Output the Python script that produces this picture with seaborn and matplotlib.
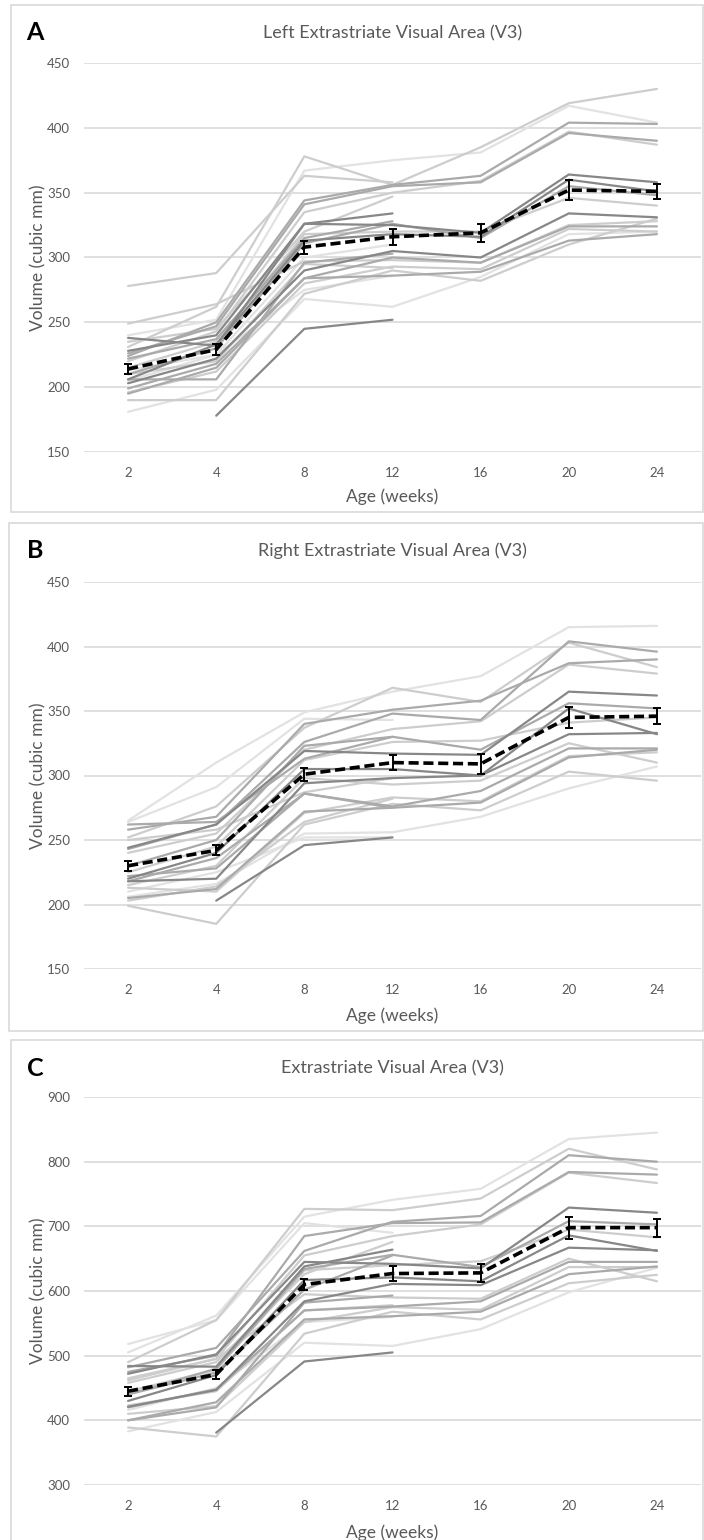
import numpy as np
import pandas as pd
import matplotlib
matplotlib.use("Agg")
import matplotlib.pyplot as plt
from matplotlib.patches import Rectangle
import seaborn as sns

# ---------------------------------------------------------------- data
AGES = ["2", "4", "8", "12", "16", "20", "24"]
N = None

# Left V3: one row per animal, volumes at each age (None = not scanned)
LEFT_V3 = [
    [240, 252, 367, 375, 381, 417, 404],
    [231, 262, 378, 356, 385, 419, 430],
    [224, 250, 344, 356, 363, 404, 403],
    [226, 247, 341, 355, 358, 396, 390],
    [220, 243, 335, 350, 359, 397, 387],
    [228, 240, 326, 325, 319, 364, 358],
    [206, 233, 313, 318, 316, 360, 351],
    [210, 230, 311, 326, 315, 355, 348],
    [215, 235, 318, 320, 320, 346, 340],
    [203, 222, 290, 305, 300, 334, 331],
    [199, 218, 284, 300, 296, 324, 324],
    [196, 212, 280, 293, 291, 322, 320],
    [195, 215, 284, 286, 289, 313, 318],
    [190, 190, 272, 290, 282, 310, 330],
    [181, 198, 268, 262, 285, 318, 320],
    [249, 264, 297, 298, 296, 325, 328],
    [N, 178, 245, 252, N, N, N],
    [278, 288, 363, 358, N, N, N],
    [238, 232, 326, 334, N, N, N],
    [222, 237, 315, 328, N, N, N],
    [235, 245, 320, 347, N, N, N],
    [205, 225, 300, 310, N, N, N],
    [206, 206, 296, 303, N, N, N],
    [210, 220, 295, 292, N, N, N],
    [213, 225, 275, 286, N, N, N],
]
LEFT_SHADES = ["vl", "l", "m", "m", "l", "d", "d", "m", "l", "d", "m", "l", "m",
               "l", "vl", "l", "d", "l", "d", "m", "l", "vl", "m", "l", "vl"]
LEFT_MEAN = [214, 229, 308, 316, 319, 352, 351]
LEFT_SEM = [4, 4, 5, 6, 7, 8, 6]

# Right V3
RIGHT_V3 = [
    [265, 310, 349, 365, 377, 415, 416],
    [258, 268, 340, 351, 358, 387, 390],
    [243, 262, 326, 348, 343, 404, 396],
    [252, 276, 337, 368, 357, 403, 384],
    [240, 255, 320, 336, 342, 386, 379],
    [244, 262, 319, 317, 316, 365, 362],
    [230, 250, 323, 330, 320, 356, 352],
    [220, 240, 305, 305, 300, 352, 332],
    [225, 245, 312, 326, 327, 341, 345],
    [218, 220, 294, 298, 300, 332, 333],
    [222, 228, 286, 276, 288, 321, 321],
    [213, 210, 271, 283, 280, 315, 318],
    [205, 212, 272, 275, 279, 314, 320],
    [199, 185, 262, 278, 273, 303, 296],
    [206, 216, 255, 256, 268, 290, 307],
    [215, 230, 298, 293, 296, 325, 310],
    [N, 203, 246, 252, N, N, N],
    [264, 291, 344, 343, N, N, N],
    [262, 264, 313, 330, N, N, N],
    [250, 258, 287, 298, N, N, N],
    [218, 236, 286, 275, N, N, N],
    [210, 225, 252, 252, N, N, N],
    [203, 214, 264, 282, N, N, N],
]
RIGHT_SHADES = ["vl", "m", "m", "l", "l", "d", "m", "d", "l", "d", "m", "l", "m",
                "l", "vl", "l", "d", "vl", "m", "l", "m", "vl", "l"]
RIGHT_MEAN = [230, 242, 301, 310, 309, 345, 346]
RIGHT_SEM = [4, 4, 5, 6, 8, 8, 6]

# Total V3 (left + right)
TOTAL_V3 = [
    [505, 562, 715, 741, 758, 835, 845],
    [490, 555, 727, 725, 743, 820, 788],
    [482, 512, 662, 707, 716, 810, 800],
    [475, 500, 685, 705, 706, 784, 780],
    [465, 495, 655, 685, 703, 783, 767],
    [472, 502, 645, 642, 635, 729, 721],
    [440, 480, 634, 656, 637, 708, 703],
    [430, 470, 617, 621, 615, 686, 662],
    [445, 478, 632, 640, 646, 695, 683],
    [421, 447, 584, 611, 609, 667, 663],
    [420, 448, 570, 576, 584, 645, 645],
    [410, 422, 552, 575, 571, 637, 637],
    [400, 428, 556, 561, 568, 626, 638],
    [389, 375, 534, 568, 556, 612, 625],
    [383, 413, 520, 515, 541, 598, 636],
    [462, 495, 595, 590, 588, 650, 615],
    [N, 381, 491, 505, N, N, N],
    [518, 555, 705, 690, N, N, N],
    [484, 483, 638, 664, N, N, N],
    [440, 474, 602, 655, N, N, N],
    [458, 490, 626, 676, N, N, N],
    [416, 450, 552, 560, N, N, N],
    [400, 420, 582, 593, N, N, N],
    [423, 445, 570, 578, N, N, N],
]
TOTAL_SHADES = ["vl", "l", "m", "m", "l", "d", "m", "d", "l", "d", "m", "l", "m",
                "l", "vl", "l", "d", "vl", "d", "m", "l", "vl", "m", "l"]
TOTAL_MEAN = [445, 471, 610, 627, 628, 698, 698]
TOTAL_SEM = [7, 7, 9, 12, 14, 17, 14]

PANELS = [
    ("A", "Left Extrastriate Visual Area (V3)", LEFT_V3, LEFT_SHADES, LEFT_MEAN, LEFT_SEM, (150, 450), 50),
    ("B", "Right Extrastriate Visual Area (V3)", RIGHT_V3, RIGHT_SHADES, RIGHT_MEAN, RIGHT_SEM, (150, 450), 50),
    ("C", "Extrastriate Visual Area (V3)", TOTAL_V3, TOTAL_SHADES, TOTAL_MEAN, TOTAL_SEM, (300, 900), 100),
]

# ---------------------------------------------------------------- style
sns.set_style("white")
plt.rcParams["font.family"] = ["Lato", "DejaVu Sans"]
TEXT = "#595959"
GRID = "#d9d9d9"
SHADE = {"d": "#878787", "m": "#aaaaaa", "l": "#cdcdcd", "vl": "#e2e2e2"}

W, H = 704, 1540
fig = plt.figure(figsize=(W / 100, H / 100), dpi=100)

# pixel layout of each panel: (box top, box bottom, box left, axes top, axes bottom)
LAYOUT = [(5, 512, 11, 63, 452), (523, 1031, 9, 582, 969), (1040, 1548, 11, 1097, 1485)]
AX_LEFT, AX_RIGHT = 84, 701

for (letter, title, rows, shades, mean, sem, ylim, step), (btop, bbot, bleft, atop, abot) in zip(PANELS, LAYOUT):
    # light frame around the panel
    fig.patches.append(Rectangle((bleft / W, 1 - bbot / H), (703 - bleft) / W, (bbot - btop) / H,
                                 transform=fig.transFigure, fill=False, edgecolor=GRID, lw=1.2))
    ax = fig.add_axes([AX_LEFT / W, 1 - abot / H, (AX_RIGHT - AX_LEFT) / W, (abot - atop) / H])

    long = pd.DataFrame(
        [(i, j, v, shades[i]) for i, r in enumerate(rows) for j, v in enumerate(r) if v is not None],
        columns=["animal", "pos", "volume", "shade"],
    )
    # draw lighter animals first so darker ones sit on top
    order = {"vl": 0, "l": 1, "m": 2, "d": 3}
    for animal in sorted(long["animal"].unique(), key=lambda a: order[shades[a]]):
        sub = long[long["animal"] == animal]
        sns.lineplot(data=sub, x="pos", y="volume", color=SHADE[shades[animal]],
                     lw=1.6, ax=ax, legend=False, zorder=2)

    pos = np.arange(len(AGES))
    sns.lineplot(x=pos, y=mean, color="black", lw=2.6, linestyle=(0, (2.8, 1.3)),
                 ax=ax, legend=False, zorder=5)
    ax.errorbar(pos, mean, yerr=sem, fmt="none", ecolor="black", elinewidth=1.4,
                capsize=2.6, capthick=1.4, zorder=6)

    ax.set_xlim(-0.5, len(AGES) - 0.5)
    ax.set_ylim(*ylim)
    ax.set_xticks(pos)
    ax.set_xticklabels(AGES)
    ax.set_yticks(np.arange(ylim[0], ylim[1] + 1, step))
    ax.yaxis.grid(True, color=GRID, lw=1.2)
    ax.xaxis.grid(False)
    ax.set_axisbelow(True)
    for s in ax.spines.values():
        s.set_visible(False)
    ax.tick_params(axis="both", length=0, labelsize=9.5, labelcolor=TEXT)
    ax.tick_params(axis="x", pad=11)
    ax.tick_params(axis="y", pad=10)

    ax.set_xlabel("Age (weeks)", fontsize=12.5, color=TEXT)
    ax.xaxis.set_label_coords(0.5, -(bbot - 15 - abot) / (abot - atop))
    ax.xaxis.label.set_va("center")
    ax.set_ylabel("Volume (cubic mm)", fontsize=12.5, color=TEXT)
    ax.yaxis.set_label_coords(-(AX_LEFT - 38) / (AX_RIGHT - AX_LEFT), 0.5)
    ax.yaxis.label.set_va("center")

    fig.text((AX_LEFT + AX_RIGHT) / 2 / W, 1 - (btop + 28) / H, title, ha="center", va="center",
             fontsize=13, color=TEXT)
    fig.text(35 / W, 1 - (btop + 28) / H, letter, ha="center", va="center",
             fontsize=18, fontweight="bold", color="black")

fig.savefig("out.png", dpi=100)
